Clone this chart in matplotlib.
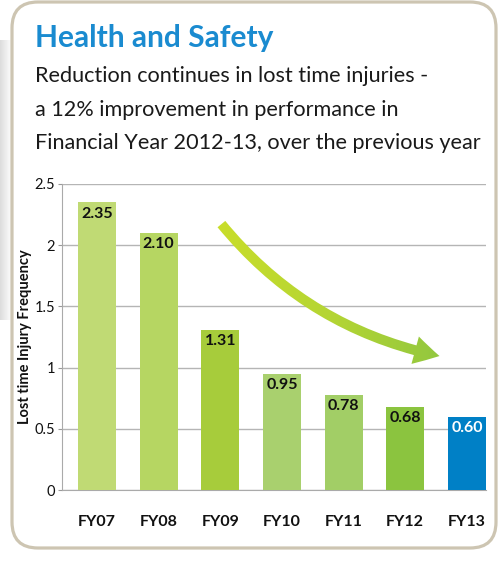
import matplotlib
matplotlib.use("Agg")
import matplotlib.pyplot as plt
from matplotlib.patches import FancyBboxPatch, FancyArrowPatch
from matplotlib.colors import LinearSegmentedColormap
import numpy as np

# DATA

years = ["FY07", "FY08", "FY09", "FY10", "FY11", "FY12", "FY13"]
ltif = [2.35, 2.10, 1.31, 0.95, 0.78, 0.68, 0.60]
value_labels = ["2.35", "2.10", "1.31", "0.95", "0.78", "0.68", "0.60"]
bar_colors = ["#c0da74", "#b6d662", "#a7cc3b", "#a9d06e", "#a2ce66", "#8bc43f", "#0080c6"]
label_colors = ["#111111"] * 6 + ["#ffffff"]
yticks = [0, 0.5, 1, 1.5, 2, 2.5]
ytick_labels = ["0", "0.5", "1", "1.5", "2", "2.5"]

title = "Health and Safety"
subtitle = ["Reduction continues in lost time injuries -",
            "a 12% improvement in performance in",
            "Financial Year 2012-13, over the previous year"]

W, H = 498, 562
plt.rcParams["font.family"] = ["Lato", "DejaVu Sans"]

fig = plt.figure(figsize=(W / 100, H / 100), dpi=100)
fig.patch.set_facecolor("white")

# soft grey shadow on the left edge
bg = fig.add_axes([0, 0, 1, 1], zorder=-2)
bg.set_xlim(0, W)
bg.set_ylim(H, 0)
bg.axis("off")
shade = np.linspace(0.85, 1.0, 64).reshape(1, -1)
bg.imshow(shade, extent=(0, 12, 320, 40), cmap="gray", vmin=0, vmax=1,
          aspect="auto", alpha=0.9)

# panel frame
frame = FancyBboxPatch((12, 2), 484, 546,
                       boxstyle="round,pad=0,rounding_size=26",
                       facecolor="white", edgecolor="#cdc5b2",
                       linewidth=2.3, zorder=1)
bg.add_patch(frame)

# title + text
fig.text(35 / W, 1 - 47 / H, title, color="#1a8bd0", fontsize=21.5,
         fontweight="bold", ha="left", va="baseline")
for i, line in enumerate(subtitle):
    fig.text(35 / W, 1 - (82 + 33.5 * i) / H, line, color="#1a1a1a",
             fontsize=15.6, ha="left", va="baseline")

# CHART

ax = fig.add_axes([62 / W, 72 / H, 424 / W, 306 / H])
x = np.arange(len(years))
bars = ax.bar(x, ltif, width=0.616, color=bar_colors, zorder=3)

for xi, v, lab, c in zip(x, ltif, value_labels, label_colors):
    ax.text(xi, v - 0.035, lab, ha="center", va="top", fontsize=11.5,
            fontweight="bold", color=c, zorder=4)

ax.set_xlim(-0.567, 6.31)
ax.set_ylim(0, 2.5)
ax.set_yticks(yticks)
ax.set_yticklabels(ytick_labels)
ax.set_xticks(x)
ax.set_xticklabels(years, fontweight="bold")
ax.tick_params(axis="x", length=0, pad=18, labelsize=11.5, labelcolor="#111111")
ax.tick_params(axis="y", length=3, color="#999999", pad=2, labelsize=10.5,
               labelcolor="#111111")
ax.grid(axis="y", color="#b5b5b5", linewidth=1, zorder=0)
ax.set_axisbelow(True)
for s in ["top", "right"]:
    ax.spines[s].set_visible(False)
for s in ["left", "bottom"]:
    ax.spines[s].set_color("#aaaaaa")
ax.set_ylabel("Lost time Injury Frequency", fontsize=10.5, fontweight="bold",
              color="#111111", labelpad=2)

# trend arrow with a yellow-green to green gradient
arrow = FancyArrowPatch((1.99, 2.19), (5.6, 1.09),
                        connectionstyle="arc3,rad=0.18",
                        arrowstyle="simple,head_width=1.7,head_length=1.5,tail_width=0.6",
                        mutation_scale=12, facecolor="none", edgecolor="none",
                        zorder=5)
ax.add_patch(arrow)
grad_cmap = LinearSegmentedColormap.from_list("arrow", ["#cade2a", "#b4d534", "#8fc640"])
grad = np.linspace(0, 1, 256).reshape(1, -1)
im = ax.imshow(grad, extent=(1.85, 5.75, 0.95, 2.3), cmap=grad_cmap,
               aspect="auto", zorder=5)
im.set_clip_path(arrow)
ax.set_xlim(-0.567, 6.31)
ax.set_ylim(0, 2.5)

fig.savefig("out.png", dpi=100)
